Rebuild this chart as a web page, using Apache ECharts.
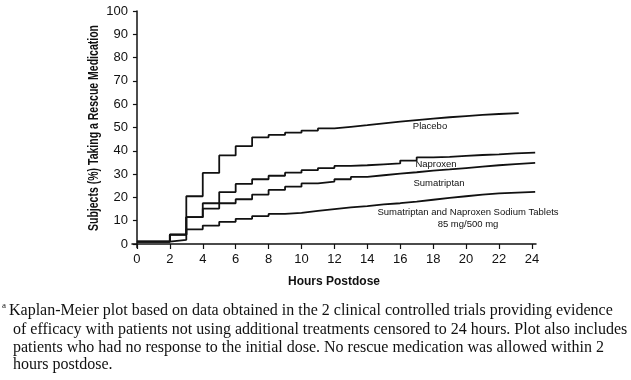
<!DOCTYPE html>
<html>
<head>
<meta charset="utf-8">
<script src="https://cdn.jsdelivr.net/npm/echarts@6/dist/echarts.min.js"></script>
<style>html,body{margin:0;padding:0;background:#fff}#c{width:631px;height:380px}</style>
</head>
<body>
<div id="c"></div>
<script>
// Step hours (time at which each level begins)
const hours = [0, 2, 3, 4, 5, 6, 7, 8, 9, 10, 11, 12, 13, 14, 15, 16, 17, 18, 19, 20, 21, 22, 23];
const placebo = [1, 4, 20.5, 30.5, 38, 42, 45.8, 46.8, 47.8, 48.7, 49.6, 50.3, 51, 51.8, 52.5, 53.2, 53.8, 54.4, 54.9, 55.4, 55.8, 56.2];
const placeboEnd = 23.2;
const naproxen = [1, 4, 11.5, 15.2, 22.3, 25.8, 27.8, 29.3, 30.6, 31.7, 32.6, 33.5, 33.8, 34.2, 34.6, 35.8, 37.2, 37.4, 37.8, 38.2, 38.5, 38.9, 39.2];
const naproxenEnd = 24.2;
const sumatriptan = [1, 4, 11.5, 17.5, 17.5, 19.2, 21.2, 23.2, 24.6, 26, 26.8, 27.8, 28.8, 29.5, 30.2, 30.8, 31.5, 32, 32.6, 33.2, 33.8, 34.3, 34.8];
const sumatriptanEnd = 24.2;
const combo = [1, 1.8, 6.3, 7.9, 9.5, 10.8, 12, 12.9, 13.4, 14.2, 15, 15.7, 16.3, 17, 17.5, 18.2, 19, 19.8, 20.5, 21.2, 21.7, 22.4];
const comboEnd = 24.2;
const xTicks = [0, 2, 4, 6, 8, 10, 12, 14, 16, 18, 20, 22, 24];
const yTicks = [0, 10, 20, 30, 40, 50, 60, 70, 80, 90, 100];
const yTitle = 'Subjects (%) Taking a Rescue Medication';
const xTitle = 'Hours Postdose';
const seriesLabels = ['Placebo', 'Naproxen', 'Sumatriptan', 'Sumatriptan and Naproxen Sodium Tablets', '85 mg/500 mg'];
const footnote = [
  'Kaplan-Meier plot based on data obtained in the 2 clinical controlled trials providing evidence',
  ' of efficacy with patients not using additional treatments censored to 24 hours. Plot also includes',
  ' patients who had no response to the initial dose. No rescue medication was allowed within 2',
  ' hours postdose.'
];

function build(vals, end) {
  const d = vals.map((v, i) => [hours[i], v]);
  d.push([end, vals[vals.length - 1]]);
  return d;
}

const sans = '"Liberation Sans", Arial, sans-serif';
const serif = '"Liberation Serif", "Times New Roman", serif';
// condensed look for the rotated y title: measure then squeeze along its length
const yFont = 'bold 15px ' + sans;
const cv = document.createElement('canvas').getContext('2d');
cv.font = yFont;
const yScale = 206 / cv.measureText(yTitle).width;

const chart = echarts.init(document.getElementById('c'), null, {renderer: 'canvas'});
const lineStyle = {color: '#111', width: 1.8};
const mk = (name, data) => ({
  name, type: 'line', step: 'end', data, showSymbol: false, symbol: 'none',
  lineStyle, animation: false, silent: true
});
const lbl = (x, y, text) => ({type: 'text', x, y, style: {text, font: '9.5px ' + sans, fill: '#111', align: 'center', verticalAlign: 'middle'}});
const foot = (x, y, text) => ({type: 'text', x, y, style: {text, font: '16px ' + serif, fill: '#111', align: 'left', verticalAlign: 'middle'}});

chart.setOption({
  animation: false,
  backgroundColor: '#fff',
  grid: {left: 132, right: 95, top: 11, bottom: 132.5, containLabel: false},
  xAxis: {
    type: 'value', min: -0.3, max: 24.25,
    name: xTitle, nameLocation: 'middle', nameGap: 28,
    nameTextStyle: {fontFamily: sans, fontWeight: 'bold', fontSize: 12, color: '#111'},
    axisLine: {show: true, lineStyle: {color: '#111', width: 1.5}},
    axisTick: {show: true, length: 5, lineStyle: {color: '#111', width: 1.2}, customValues: xTicks},
    axisLabel: {customValues: xTicks, fontFamily: sans, fontSize: 13, color: '#111', margin: 5},
    splitLine: {show: false}
  },
  yAxis: {
    type: 'value', min: -1.5, max: 100,
    axisLine: {show: true, lineStyle: {color: '#111', width: 1.5}},
    axisTick: {show: true, length: 4, lineStyle: {color: '#111', width: 1.2}, customValues: yTicks},
    axisLabel: {customValues: yTicks, fontFamily: sans, fontSize: 13, color: '#111', margin: 4},
    splitLine: {show: false}
  },
  series: [
    mk('Placebo', build(placebo, placeboEnd)),
    mk('Naproxen', build(naproxen, naproxenEnd)),
    mk('Sumatriptan', build(sumatriptan, sumatriptanEnd)),
    mk('Combo', build(combo, comboEnd))
  ],
  graphic: [
    {type: 'text', x: 94, y: 128, rotation: Math.PI / 2, scaleX: yScale, scaleY: 1,
     style: {text: yTitle, font: yFont, fill: '#111', align: 'center', verticalAlign: 'middle'}},
    lbl(430, 126, seriesLabels[0]),
    lbl(436, 164, seriesLabels[1]),
    lbl(439, 183, seriesLabels[2]),
    lbl(468, 212, seriesLabels[3]),
    lbl(468, 224, seriesLabels[4]),
    {type: 'text', x: 2, y: 306, style: {text: 'a', font: '9px ' + serif, fill: '#111', align: 'left', verticalAlign: 'middle'}},
    foot(9, 311, footnote[0]),
    foot(9, 330, footnote[1]),
    foot(9, 348, footnote[2]),
    foot(9, 365, footnote[3])
  ]
});
</script>
</body>
</html>
